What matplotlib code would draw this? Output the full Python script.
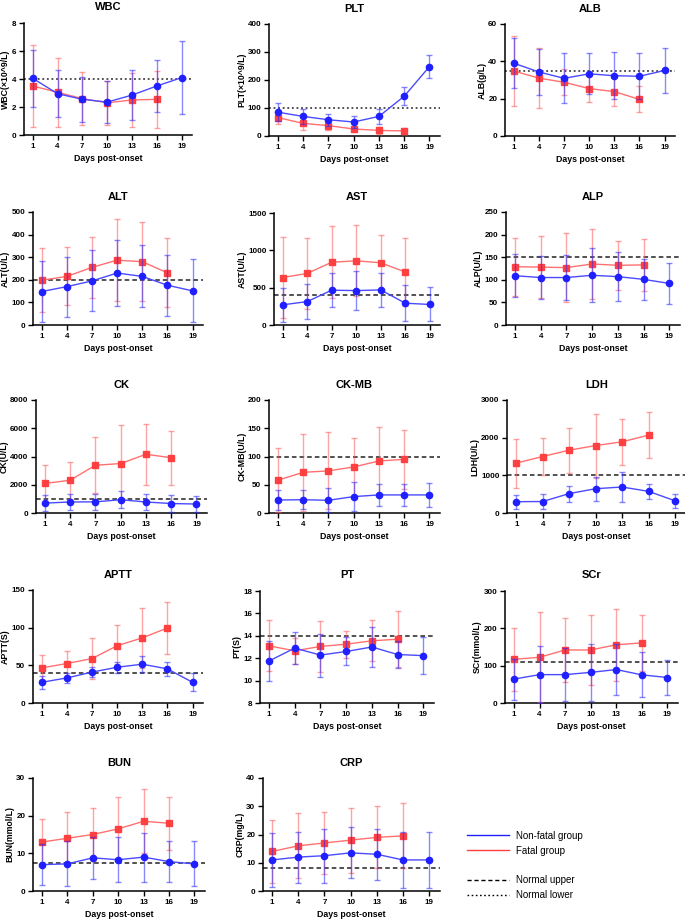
import matplotlib
matplotlib.use("Agg")
import matplotlib.pyplot as plt
from matplotlib.lines import Line2D

plt.rcParams['font.family'] = ['Liberation Sans', 'DejaVu Sans']

days = [1, 4, 7, 10, 13, 16, 19]
days_f = [1, 4, 7, 10, 13, 16]
xticks = [1, 4, 7, 10, 13, 16, 19]

# ---- data: nf = Non-fatal group (blue), f = Fatal group (red) ----
wbc_nf_mean = [4.05, 2.95, 2.55, 2.35, 2.85, 3.5, 4.1]
wbc_nf_sd = [2.05, 1.67, 1.62, 1.52, 1.78, 1.87, 2.6]
wbc_f_mean = [3.5, 3.05, 2.6, 2.3, 2.5, 2.55]
wbc_f_sd = [2.95, 2.45, 1.9, 1.58, 1.9, 2.05]

plt_nf_mean = [85, 70, 58, 50, 70, 142, 248]
plt_nf_sd = [33, 28, 22, 20, 28, 33, 40]
plt_f_mean = [66, 45, 37, 25, 20, 18]
plt_f_sd = [24, 22, 15, 10, 12, 12]

alb_nf_mean = [39.0, 34.3, 30.9, 33.3, 32.3, 32.0, 35.1]
alb_nf_sd = [13.3, 12.5, 13.4, 11.0, 12.5, 12.2, 12.2]
alb_f_mean = [34.8, 31.0, 28.8, 25.4, 23.8, 19.6]
alb_f_sd = [18.7, 16.2, 7.0, 7.0, 7.7, 7.0]

alt_nf_mean = [148, 170, 195, 230, 215, 176, 151]
alt_nf_sd = [133, 133, 135, 148, 137, 135, 139]
alt_f_mean = [198, 215, 255, 287, 280, 231]
alt_f_sd = [142, 128, 134, 180, 174, 153]

ast_nf_mean = [270, 313, 466, 461, 470, 292, 275]
ast_nf_sd = [228, 232, 230, 263, 232, 240, 228]
ast_f_mean = [636, 690, 840, 860, 833, 710]
ast_f_sd = [540, 470, 480, 475, 375, 460]

alp_nf_mean = [109, 105, 105, 110, 107, 101, 92]
alp_nf_sd = [47, 48, 49, 60, 54, 46, 45]
alp_f_mean = [129, 128, 127, 135, 132, 133]
alp_f_sd = [64, 68, 77, 77, 54, 58]

ck_nf_mean = [700, 780, 790, 940, 780, 670, 635]
ck_nf_sd = [550, 545, 560, 610, 560, 600, 570]
ck_f_mean = [2090, 2320, 3380, 3500, 4160, 3910]
ck_f_sd = [1320, 1300, 1970, 2700, 2160, 1920]

ckmb_nf_mean = [23, 23.5, 22.5, 29, 32, 32, 32]
ckmb_nf_sd = [17, 17, 21, 26, 20, 20, 21]
ckmb_f_mean = [58, 72, 74.5, 81.5, 92, 95]
ckmb_f_sd = [57, 68, 68, 52, 60, 52]

ldh_nf_mean = [300, 305, 515, 645, 690, 575, 325]
ldh_nf_sd = [185, 195, 210, 320, 410, 205, 180]
ldh_f_mean = [1325, 1500, 1668, 1790, 1890, 2067]
ldh_f_sd = [650, 490, 600, 850, 612, 610]

aptt_nf_mean = [27.5, 33.3, 41, 47.5, 51.5, 45.3, 27.5]
aptt_nf_sd = [8.3, 7, 6.5, 7.5, 10.5, 9, 12]
aptt_f_mean = [46.6, 52.4, 59, 76, 86.5, 99.5]
aptt_f_sd = [16.5, 17, 27, 27, 40, 34]

pt_nf_mean = [11.75, 12.9, 12.28, 12.6, 13.0, 12.33, 12.23]
pt_nf_sd = [1.75, 1.4, 1.92, 1.25, 1.82, 1.24, 1.65]
pt_f_mean = [13.1, 12.66, 13.05, 13.25, 13.55, 13.7]
pt_f_sd = [2.27, 1.15, 2.3, 1.2, 1.83, 2.47]

scr_nf_mean = [64, 76, 76, 82, 89.6, 75.4, 68.3]
scr_nf_sd = [55, 76, 71, 77, 69, 60, 47]
scr_f_mean = [117, 122.5, 142, 142, 156, 161]
scr_f_sd = [85, 121, 87, 94, 97, 76]

bun_nf_mean = [7.0, 7.2, 8.8, 8.3, 9.0, 7.8, 7.2]
bun_nf_sd = [5.5, 6.0, 5.5, 6.0, 6.5, 5.5, 6.0]
bun_f_mean = [13.0, 14.0, 15.0, 16.5, 18.5, 18.0]
bun_f_sd = [6.0, 7.0, 7.0, 8.5, 8.5, 7.0]

crp_nf_mean = [11.0, 12.0, 12.5, 13.5, 13.0, 11.0, 11.0]
crp_nf_sd = [9.5, 9.0, 9.5, 9.0, 9.0, 10.0, 10.0]
crp_f_mean = [14.0, 16.0, 17.0, 18.0, 19.0, 19.5]
crp_f_sd = [11.0, 11.5, 11.0, 11.5, 11.0, 11.5]

titles = ['WBC', 'PLT', 'ALB', 'ALT', 'AST', 'ALP', 'CK', 'CK-MB', 'LDH',
          'APTT', 'PT', 'SCr', 'BUN', 'CRP']
ylabels = ['WBC(×10^9/L)', 'PLT(×10^9/L)', 'ALB(g/L)', 'ALT(U/L)', 'AST(U/L)',
           'ALP(U/L)', 'CK(U/L)', 'CK-MB(U/L)', 'LDH(U/L)', 'APTT(S)', 'PT(S)',
           'SCr(mmol/L)', 'BUN(mmol/L)', 'CRP(mg/L)']
yticks_list = [[0, 2, 4, 6, 8], [0, 100, 200, 300, 400], [0, 20, 40, 60],
               [0, 100, 200, 300, 400, 500], [0, 500, 1000, 1500],
               [0, 50, 100, 150, 200, 250], [0, 2000, 4000, 6000, 8000],
               [0, 50, 100, 150, 200], [0, 1000, 2000, 3000],
               [0, 50, 100, 150], [8, 10, 12, 14, 16, 18], [0, 100, 200, 300],
               [0, 10, 20, 30], [0, 10, 20, 30, 40]]
ref_values = [4, 100, 35, 200, 400, 150, 1000, 100, 1000, 40, 14, 110, 7.5, 8]
ref_kind = ['lower', 'lower', 'lower', 'upper', 'upper', 'upper', 'upper',
            'upper', 'upper', 'upper', 'upper', 'upper', 'upper', 'upper']

nf_means = [wbc_nf_mean, plt_nf_mean, alb_nf_mean, alt_nf_mean, ast_nf_mean,
            alp_nf_mean, ck_nf_mean, ckmb_nf_mean, ldh_nf_mean, aptt_nf_mean,
            pt_nf_mean, scr_nf_mean, bun_nf_mean, crp_nf_mean]
nf_sds = [wbc_nf_sd, plt_nf_sd, alb_nf_sd, alt_nf_sd, ast_nf_sd, alp_nf_sd,
          ck_nf_sd, ckmb_nf_sd, ldh_nf_sd, aptt_nf_sd, pt_nf_sd, scr_nf_sd,
          bun_nf_sd, crp_nf_sd]
f_means = [wbc_f_mean, plt_f_mean, alb_f_mean, alt_f_mean, ast_f_mean,
           alp_f_mean, ck_f_mean, ckmb_f_mean, ldh_f_mean, aptt_f_mean,
           pt_f_mean, scr_f_mean, bun_f_mean, crp_f_mean]
f_sds = [wbc_f_sd, plt_f_sd, alb_f_sd, alt_f_sd, ast_f_sd, alp_f_sd,
         ck_f_sd, ckmb_f_sd, ldh_f_sd, aptt_f_sd, pt_f_sd, scr_f_sd,
         bun_f_sd, crp_f_sd]

# axes boxes in pixels: left, right, top, bottom
W, H = 685, 923
boxes = [(24, 192, 23, 135), (269, 440, 24, 136), (505, 675, 24, 136),
         (33, 203, 212, 325), (274, 440, 213, 325), (506, 680, 212, 325),
         (36, 207, 400, 513), (269, 440, 400, 513), (507, 686, 400, 513),
         (33, 203, 590, 703), (260, 434, 591, 703), (505, 678, 591, 703),
         (33, 205, 778, 891), (263, 440, 778, 891)]

BLUE = '#1f1fff'
RED = '#ff4040'

fig = plt.figure(figsize=(W / 100, H / 100), dpi=100)

for i in range(14):
    l, r, t, b = boxes[i]
    ax = fig.add_axes([l / W, 1 - b / H, (r - l) / W, (b - t) / H])
    yt = yticks_list[i]
    # fatal group (red)
    ax.errorbar(days_f, f_means[i], yerr=f_sds[i], color='#ff7070',
                ecolor=(1.0, 0.35, 0.35, 0.55), elinewidth=1.0, capsize=2,
                capthick=1.0, lw=1.0, marker='s', ms=4.3, mfc=RED, mec=RED,
                zorder=3)
    # non-fatal group (blue)
    ax.errorbar(days, nf_means[i], yerr=nf_sds[i], color='#4a4aff',
                ecolor=(0.15, 0.15, 1.0, 0.55), elinewidth=1.0, capsize=2,
                capthick=1.0, lw=1.0, marker='o', ms=4.5, mfc=BLUE, mec=BLUE,
                zorder=4)
    ls = (0, (1.2, 1.8)) if ref_kind[i] == 'lower' else (0, (3, 2))
    ax.axhline(ref_values[i], color='#222222', lw=1.1, ls=ls, zorder=2)
    ax.set_xlim(-0.05, 20.25)
    ax.set_ylim(yt[0], yt[-1])
    ax.set_yticks(yt)
    ax.set_xticks(xticks)
    ax.spines['top'].set_visible(False)
    ax.spines['right'].set_visible(False)
    for s in ['left', 'bottom']:
        ax.spines[s].set_linewidth(1.1)
    ax.tick_params(axis='both', direction='out', length=3.5, width=1.0,
                   labelsize=5.8, pad=2)
    for lab in ax.get_xticklabels() + ax.get_yticklabels():
        lab.set_fontweight('bold')
    ax.set_title(titles[i], fontsize=8, fontweight='bold', pad=9)
    ax.set_xlabel('Days post-onset', fontsize=6.3, fontweight='bold', labelpad=3)
    ax.set_ylabel(ylabels[i], fontsize=6.3, fontweight='bold', labelpad=1)

handles = [Line2D([], [], color=BLUE, lw=1.0),
           Line2D([], [], color=RED, lw=1.0),
           Line2D([], [], color='none'),
           Line2D([], [], color='black', lw=1.0, ls=(0, (3, 2))),
           Line2D([], [], color='black', lw=1.0, ls=(0, (1.2, 1.8)))]
labels = ['Non-fatal group', 'Fatal group', '', 'Normal upper', 'Normal lower']
fig.legend(handles, labels, loc='upper left',
           bbox_to_anchor=(458 / W, 1 - 822 / H), frameon=False,
           fontsize=7, handlelength=4.3, labelspacing=0.5,
           handletextpad=0.8)

fig.savefig('out.png', dpi=100)
